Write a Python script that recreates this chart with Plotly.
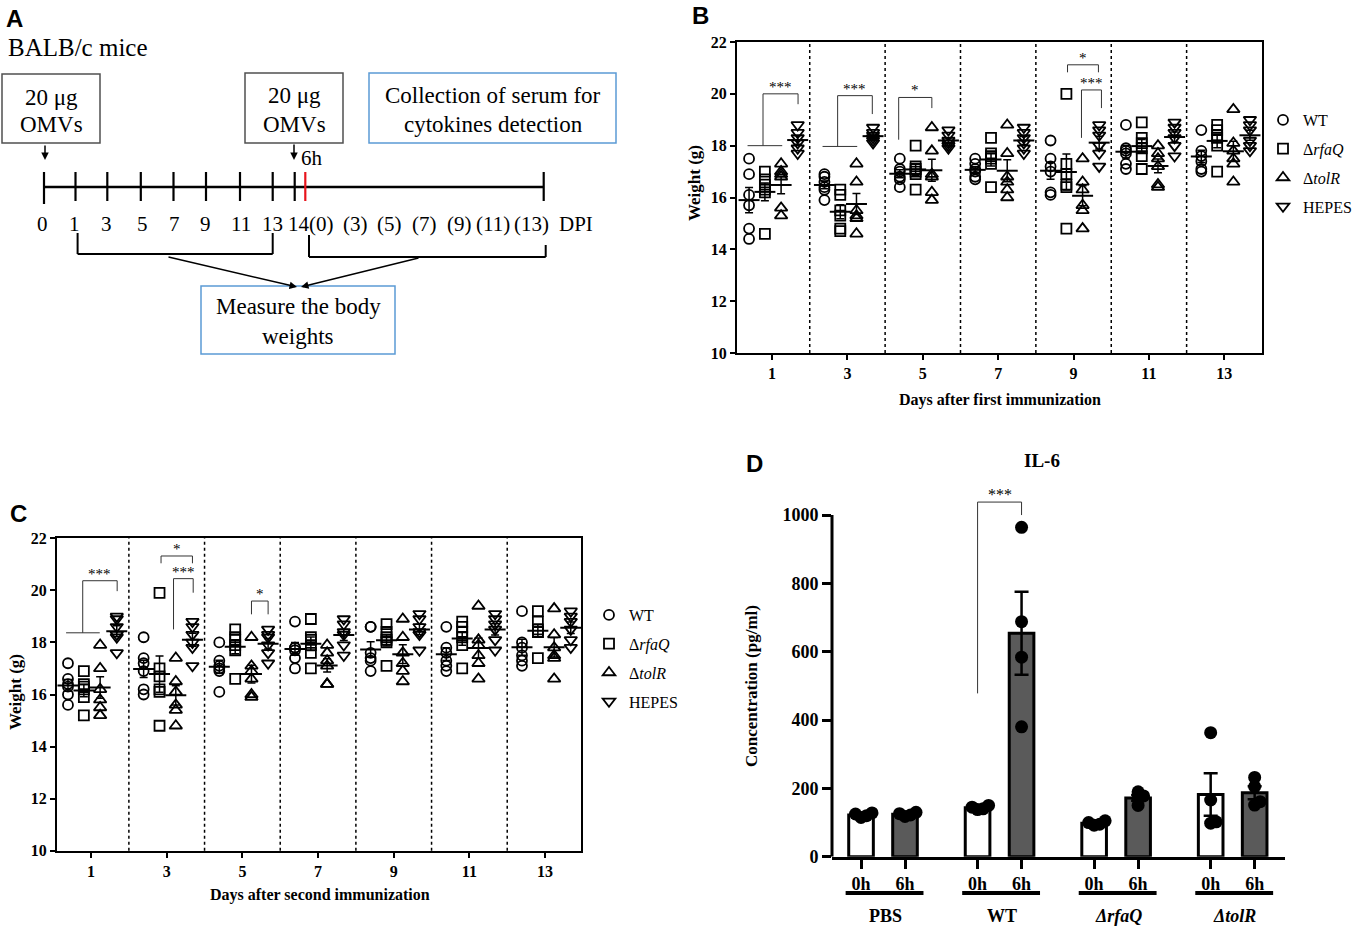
import numpy as np
import plotly.graph_objects as go

W, H = 1358, 926
SERIF = "Liberation Serif"
SANS = "Liberation Sans"

# ---- data -------------------------------------------------------------
days = [1, 3, 5, 7, 9, 11, 13]
group_names = ["WT", "Δ<i>rfaQ</i>", "Δ<i>tolR</i>", "HEPES"]

# panel B: weight (g) after first immunization, one list per day
b_wt = [[17.5, 16.9, 16.1, 15.7, 14.8, 14.4], [16.9, 16.8, 16.6, 16.4, 16.3, 15.9],
        [17.5, 17.1, 17.0, 16.8, 16.7, 16.4], [17.5, 17.3, 17.1, 17.0, 16.8, 16.7],
        [18.2, 17.5, 17.2, 17.0, 16.2, 16.1], [18.8, 17.9, 17.8, 17.7, 17.3, 17.1],
        [18.6, 17.8, 17.6, 17.4, 17.1, 17.0]]
b_rfaq = [[17.0, 16.7, 16.5, 16.3, 16.2, 14.6], [16.3, 16.1, 15.5, 15.3, 14.8, 14.7],
          [18.0, 17.2, 17.1, 17.0, 16.9, 16.3], [18.3, 17.7, 17.6, 17.5, 17.3, 16.4],
          [20.0, 17.3, 16.9, 16.5, 16.4, 14.8], [18.9, 18.3, 18.1, 17.9, 17.6, 17.1],
          [18.8, 18.6, 18.4, 18.3, 18.0, 17.0]]
b_tolr = [[17.3, 17.0, 16.9, 16.8, 15.6, 15.3], [17.3, 16.6, 15.5, 15.3, 15.2, 14.6],
          [18.7, 17.8, 16.9, 16.8, 16.2, 15.9], [18.8, 17.7, 16.8, 16.6, 16.3, 16.0],
          [17.5, 16.6, 16.3, 15.7, 15.5, 14.8], [18.0, 17.7, 17.5, 17.2, 16.5, 16.4],
          [19.4, 18.1, 17.8, 17.5, 17.3, 16.6]]
b_hepes = [[18.8, 18.5, 18.3, 18.1, 17.9, 17.7], [18.7, 18.5, 18.4, 18.3, 18.2, 18.1],
           [18.6, 18.4, 18.2, 18.1, 18.0, 17.9], [18.7, 18.5, 18.3, 18.1, 17.9, 17.7],
           [18.8, 18.6, 18.4, 18.0, 17.7, 17.2], [18.9, 18.7, 18.5, 18.3, 18.0, 17.6],
           [19.0, 18.8, 18.6, 18.2, 18.0, 17.8]]

# panel C: weight (g) after second immunization
c_wt = [[17.2, 16.6, 16.4, 16.3, 16.0, 15.6], [18.2, 17.4, 17.2, 16.9, 16.2, 16.0],
        [18.0, 17.3, 17.1, 17.0, 16.9, 16.1], [18.8, 17.8, 17.8, 17.7, 17.4, 17.0],
        [18.6, 18.6, 17.6, 17.4, 17.3, 16.9], [18.6, 17.8, 17.6, 17.3, 17.1, 16.9],
        [19.2, 18.0, 17.8, 17.5, 17.3, 17.1]]
c_rfaq = [[16.9, 16.4, 16.3, 16.2, 15.9, 15.2], [19.9, 17.0, 16.7, 16.2, 16.1, 14.8],
          [18.5, 18.2, 18.1, 17.9, 17.7, 16.6], [18.9, 18.2, 18.1, 17.9, 17.6, 17.0],
          [18.7, 18.4, 18.2, 18.1, 18.0, 17.1], [18.8, 18.6, 18.4, 18.2, 17.9, 17.0],
          [19.2, 18.8, 18.5, 18.4, 18.4, 17.4]]
c_tolr = [[17.9, 17.0, 16.2, 15.8, 15.5, 15.2], [17.4, 16.5, 16.1, 15.6, 15.4, 14.8],
          [18.2, 17.1, 16.9, 16.6, 16.0, 15.9], [17.9, 17.6, 17.3, 17.1, 16.4, 16.4],
          [18.9, 18.2, 17.6, 17.2, 16.9, 16.5], [19.4, 18.1, 17.9, 17.5, 17.2, 16.6],
          [19.3, 18.3, 17.8, 17.5, 17.4, 16.6]]
c_hepes = [[19.0, 18.9, 18.6, 18.3, 18.2, 17.6], [18.8, 18.6, 18.3, 18.0, 17.8, 17.1],
           [18.5, 18.3, 18.2, 17.9, 17.6, 17.2], [18.9, 18.7, 18.4, 18.3, 17.9, 17.5],
           [19.1, 18.9, 18.6, 18.4, 18.3, 17.7], [19.1, 18.9, 18.7, 18.5, 18.1, 17.7],
           [19.2, 19.0, 18.8, 18.5, 18.1, 17.8]]

# panel D: IL-6 (pg/ml)
d_groups = ["PBS", "WT", "<i>ΔrfaQ</i>", "<i>ΔtolR</i>"]
d_0h = [[115, 125, 128, 120], [138, 150, 145, 140], [92, 105, 100, 95], [363, 166, 98, 102]]
d_6h = [[118, 126, 130, 122], [964, 688, 584, 380], [190, 178, 170, 150], [205, 232, 151, 161]]

# significance brackets (day, left/right offsets, top, leg ends, label, optional base line)
b_brackets = [
    dict(day=1, xl=-0.24, xr=0.69, top=20.0, yl=18.0, yr=19.6, label="***", base=(-0.65, 0.27)),
    dict(day=3, xl=-0.26, xr=0.66, top=19.93, yl=17.97, yr=19.22, label="***", base=(-0.66, 0.26)),
    dict(day=5, xl=-0.64, xr=0.24, top=19.86, yl=18.23, yr=19.45, label="*"),
    dict(day=9, xl=-0.16, xr=0.66, top=21.12, yl=20.83, yr=20.83, label="*"),
    dict(day=9, xl=0.21, xr=0.74, top=20.15, yl=18.3, yr=19.45, label="***"),
]
c_brackets = [
    dict(day=1, xl=-0.22, xr=0.69, top=20.37, yl=18.37, yr=19.97, label="***", base=(-0.66, 0.23)),
    dict(day=3, xl=-0.15, xr=0.68, top=21.32, yl=21.04, yr=21.04, label="*"),
    dict(day=3, xl=0.18, xr=0.70, top=20.45, yl=18.5, yr=19.91, label="***"),
    dict(day=5, xl=0.24, xr=0.68, top=19.59, yl=19.08, yr=19.08, label="*"),
]

# ---- helpers ------------------------------------------------------------
def px(x):
    return x / W


def py(y):
    return 1 - y / H


shapes = []
annotations = []


def text(x, y, s, size, family=SERIF, angle=0, xanchor="center", yanchor="middle"):
    annotations.append(dict(xref="paper", yref="paper", x=px(x), y=py(y), text=s,
                            showarrow=False, textangle=angle, xanchor=xanchor, yanchor=yanchor,
                            font=dict(family=family, size=size, color="black")))


def line(x0, y0, x1, y1, color="black", width=2):
    shapes.append(dict(type="line", xref="paper", yref="paper", x0=px(x0), y0=py(y0),
                       x1=px(x1), y1=py(y1), line=dict(color=color, width=width)))


def box(x0, y0, x1, y1, color):
    shapes.append(dict(type="rect", xref="paper", yref="paper", x0=px(x0), y0=py(y0),
                       x1=px(x1), y1=py(y1), line=dict(color=color, width=1.5)))


def arrow(x0, y0, x1, y1):
    annotations.append(dict(xref="paper", yref="paper", x=px(x1), y=py(y1), ax=x0 - x1, ay=y0 - y1,
                            text="", showarrow=True, arrowhead=2, arrowsize=1, arrowwidth=1.5,
                            arrowcolor="black"))


fig = go.Figure()

# ---- panel A: schematic ----------------------------------------------------
text(4, 18, "<b>A</b>", 24, family=SANS, xanchor="left")
text(6, 47, "BALB/c mice", 25, xanchor="left")
box(2, 74, 100, 143, "#505050")
text(51, 97, "20 μg", 23)
text(51, 125, "OMVs", 23)
box(245, 73, 343, 143, "#505050")
text(294, 95, "20 μg", 23)
text(294, 124, "OMVs", 23)
box(369, 73, 616, 143, "#5b9bd5")
text(493, 95, "Collection of serum for", 23)
text(493, 124, "cytokines detection", 23)
arrow(45, 144, 45, 160)
arrow(294, 143, 294, 160)
text(312, 158, "6h", 21)

line(44, 187, 544, 187, width=2.5)
for i, tx in enumerate([44, 75.5, 107.3, 140.8, 173.5, 206, 240, 272.7, 294.7, 543.7]):
    line(tx, 172, tx, 204 if i == 0 else 201, width=2.2)
line(305.3, 172, 305.3, 201, color="#e8141c", width=2.2)
timeline_labels = [("0", 42.4), ("1", 74.7), ("3", 106), ("5", 142), ("7", 174.7), ("9", 205),
                   ("11", 240.8), ("13", 272.7), ("14(0)", 311), ("(3)", 355), ("(5)", 390),
                   ("(7)", 424.5), ("(9)", 459), ("(11)", 493), ("(13)", 531), ("DPI", 576)]
for lab, lx in timeline_labels:
    text(lx, 224, lab, 21)

for (xa, ya), (xb, yb) in [((77.6, 233), (77.6, 254)), ((77.6, 254), (272.7, 254)),
                           ((272.7, 254), (272.7, 233)), ((309, 235), (309, 257)),
                           ((309, 257), (545.7, 257)), ((545.7, 257), (545.7, 245))]:
    line(xa, ya, xb, yb, width=2)
arrow(167, 256.7, 297, 287)
arrow(420, 257.7, 301, 287)
box(201, 286, 395, 354, "#5b9bd5")
text(298, 306, "Measure the body", 23)
text(298, 336, "weights", 23)

# ---- panels B and C: weights ------------------------------------------------
symbols = ["circle-open", "square-open", "triangle-up-open", "triangle-down-open"]
sizes = [10, 10, 11, 11]
offsets = [-0.61, -0.19, 0.24, 0.68]


def add_weight_panel(groups, xa, ya, legend, brackets):
    for g, vals in enumerate(groups):
        xs, ys, mx, my, me = [], [], [], [], []
        for d, dv in zip(days, vals):
            xs += [d + offsets[g]] * len(dv)
            ys += dv
            arr = np.array(dv)
            mx.append(d + offsets[g])
            my.append(arr.mean())
            me.append(arr.std(ddof=1) / np.sqrt(len(arr)))
        fig.add_trace(go.Scatter(
            x=xs, y=ys, mode="markers", name=group_names[g],
            marker=dict(symbol=symbols[g], size=sizes[g], color="black", line=dict(width=1.8, color="black")),
            xaxis=xa, yaxis=ya, legend=legend, legendgroup=legend + str(g)))
        fig.add_trace(go.Scatter(
            x=mx, y=my, mode="markers", showlegend=False, hoverinfo="skip",
            marker=dict(symbol="line-ew-open", size=15, color="black", line=dict(width=2, color="black")),
            error_y=dict(type="data", array=me, visible=True, color="black", thickness=1.5, width=4),
            xaxis=xa, yaxis=ya))
    for s in brackets:
        d = s["day"]
        fig.add_trace(go.Scatter(
            x=[d + s["xl"], d + s["xl"], d + s["xr"], d + s["xr"]],
            y=[s["yl"], s["top"], s["top"], s["yr"]],
            mode="lines", line=dict(color="#333", width=1), showlegend=False, hoverinfo="skip",
            xaxis=xa, yaxis=ya))
        if "base" in s:
            fig.add_trace(go.Scatter(
                x=[d + s["base"][0], d + s["base"][1]], y=[s["yl"], s["yl"]],
                mode="lines", line=dict(color="#333", width=1), showlegend=False, hoverinfo="skip",
                xaxis=xa, yaxis=ya))
        annotations.append(dict(xref=xa, yref=ya, x=d + (s["xl"] + s["xr"]) / 2, y=s["top"],
                                text=s["label"], showarrow=False, yanchor="bottom", yshift=-3,
                                font=dict(family=SERIF, size=15, color="black")))
    for sep in range(2, 14, 2):
        shapes.append(dict(type="line", xref=xa, yref=ya + " domain", x0=sep, x1=sep, y0=0, y1=1,
                           line=dict(color="black", width=1.5, dash="dot")))


add_weight_panel([b_wt, b_rfaq, b_tolr, b_hepes], "x", "y", "legend", b_brackets)
add_weight_panel([c_wt, c_rfaq, c_tolr, c_hepes], "x2", "y2", "legend2", c_brackets)

text(690, 15, "<b>B</b>", 24, family=SANS, xanchor="left")
text(694, 183, "<b>Weight (g)</b>", 17, angle=-90)
text(1000, 400, "<b>Days after first immunization</b>", 16)
text(8, 513, "<b>C</b>", 24, family=SANS, xanchor="left")
text(15, 692, "<b>Weight (g)</b>", 17, angle=-90)
text(320, 895, "<b>Days after second immunization</b>", 16)

# ---- panel D: IL-6 bars -----------------------------------------------------
gap = 2.65
x0h = [i * gap for i in range(len(d_groups))]
x6h = [i * gap + 1 for i in range(len(d_groups))]


def mean_sem(groups):
    m = [float(np.mean(v)) for v in groups]
    e = [float(np.std(v, ddof=1) / np.sqrt(len(v))) for v in groups]
    return m, e


def swarm(vals, xc, diam=11.0, xpx=44.0, ypx=0.3417):
    placed = []
    out = [xc] * len(vals)
    for i in np.argsort(vals):
        yv = vals[i] * ypx
        for k in [0, 1, -1, 2, -2]:
            xo = k * diam * 0.5
            if all((xo - a) ** 2 + (yv - b) ** 2 >= (diam * 0.5) ** 2 for a, b in placed):
                break
        placed.append((xo, yv))
        out[i] = xc + xo / xpx
    return out


for xpos, data, color in [(x0h, d_0h, "white"), (x6h, d_6h, "#5a5a5a")]:
    m, e = mean_sem(data)
    fig.add_trace(go.Bar(
        x=xpos, y=m, width=0.56, marker=dict(color=color, line=dict(color="black", width=3)),
        error_y=dict(type="data", array=e, visible=True, color="black", thickness=2.5, width=7),
        showlegend=False, xaxis="x3", yaxis="y3", hoverinfo="skip"))
for xpos, data in [(x0h, d_0h), (x6h, d_6h)]:
    for xc, vals in zip(xpos, data):
        fig.add_trace(go.Scatter(
            x=swarm(vals, xc), y=vals, mode="markers", showlegend=False,
            marker=dict(symbol="circle", size=13, color="black"), xaxis="x3", yaxis="y3"))

fig.add_trace(go.Scatter(x=[x0h[1], x0h[1], x6h[1], x6h[1]], y=[478, 1038, 1038, 1000],
                         mode="lines", line=dict(color="#333", width=1), showlegend=False,
                         hoverinfo="skip", xaxis="x3", yaxis="y3"))
annotations.append(dict(xref="x3", yref="y3", x=(x0h[1] + x6h[1]) / 2, y=1038, text="***",
                        showarrow=False, yanchor="bottom", yshift=-3,
                        font=dict(family=SERIF, size=16, color="black")))
shapes.append(dict(type="line", xref="x3 domain", yref="y3", x0=0, x1=0, y0=0, y1=1000,
                   line=dict(color="black", width=3)))
for i, name in enumerate(d_groups):
    shapes.append(dict(type="line", xref="x3", yref="paper", x0=x0h[i] - 0.35, x1=x0h[i] + 1.42,
                       y0=py(893), y1=py(893), line=dict(color="black", width=4)))
    annotations.append(dict(xref="x3", yref="paper", x=x0h[i] + 0.55, y=py(904), yanchor="top",
                            text="<b>" + name + "</b>", showarrow=False,
                            font=dict(family=SERIF, size=18, color="black")))

text(744, 463, "<b>D</b>", 24, family=SANS, xanchor="left")
text(1042, 460, "<b>IL-6</b>", 19)
text(751, 686, "<b>Concentration (pg/ml)</b>", 17, angle=-90)

# ---- layout -------------------------------------------------------------------
tick_font = dict(family=SERIF, size=16, color="black", weight="bold")
axis_common = dict(showgrid=False, zeroline=False, showline=True, linecolor="black", linewidth=2,
                   ticks="outside", tickcolor="black", tickwidth=2, ticklen=5, mirror=True,
                   tickfont=tick_font, automargin=False)
d_font = dict(family=SERIF, size=18, color="black", weight="bold")

fig.update_layout(
    width=W, height=H, margin=dict(l=0, r=0, t=0, b=0, autoexpand=False),
    plot_bgcolor="white", paper_bgcolor="white",
    font=dict(family=SERIF, color="black"),
    barmode="overlay",
    xaxis=dict(domain=[px(737), px(1262)], anchor="y", range=[0.07, 14], tickvals=days,
               ticktext=[str(d) for d in days], **axis_common),
    yaxis=dict(domain=[py(353), py(42)], anchor="x", range=[10, 22], tickvals=list(range(10, 23, 2)),
               **axis_common),
    xaxis2=dict(domain=[px(57), px(581)], anchor="y2", range=[0.1, 13.95], tickvals=days,
                ticktext=[str(d) for d in days], **axis_common),
    yaxis2=dict(domain=[py(850.7), py(538.3)], anchor="x2", range=[10, 22],
                tickvals=list(range(10, 23, 2)), **axis_common),
    xaxis3=dict(domain=[px(832), px(1285)], anchor="y3", range=[-0.66, 9.64],
                tickvals=[v for pair in zip(x0h, x6h) for v in pair],
                ticktext=["0h", "6h"] * len(d_groups), showgrid=False, zeroline=False,
                showline=True, linecolor="black", linewidth=3, ticks="outside", tickcolor="black",
                tickwidth=3, ticklen=9, tickfont=d_font, automargin=False),
    yaxis3=dict(domain=[py(856.7), py(484.3)], anchor="x3", range=[0, 1090],
                tickvals=list(range(0, 1001, 200)), showgrid=False, zeroline=False, showline=False,
                ticks="outside", tickcolor="black", tickwidth=3, ticklen=9, tickfont=d_font,
                automargin=False),
    legend=dict(x=px(1263), y=py(103), xanchor="left", yanchor="top", tracegroupgap=5,
                bgcolor="rgba(0,0,0,0)", font=dict(family=SERIF, size=16, color="black")),
    legend2=dict(x=px(589), y=py(598), xanchor="left", yanchor="top", tracegroupgap=5,
                 bgcolor="rgba(0,0,0,0)", font=dict(family=SERIF, size=16, color="black")),
    shapes=shapes,
    annotations=annotations,
)

fig.write_html("out.html", config={"displayModeBar": False, "responsive": False},
               post_script="document.body.style.margin='0';document.body.style.overflow='hidden';")
